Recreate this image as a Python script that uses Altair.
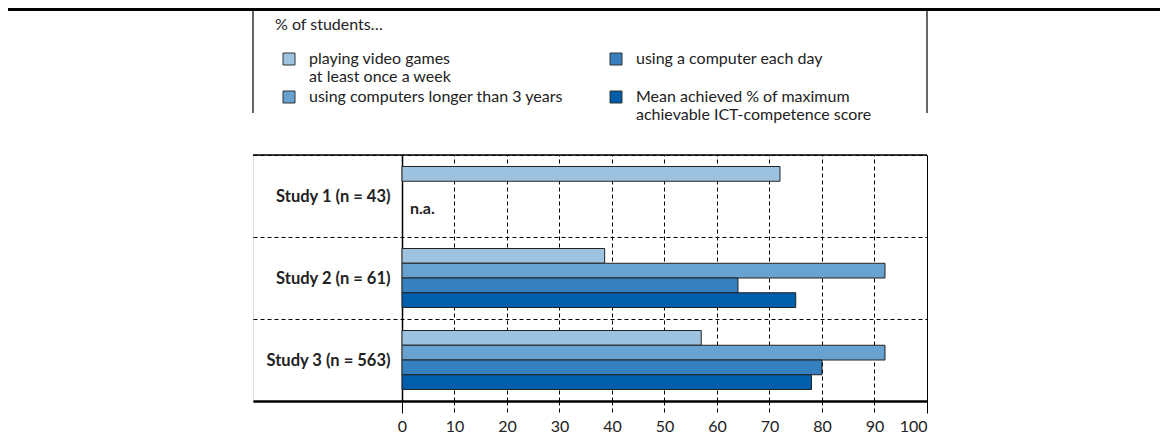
import altair as alt
import pandas as pd

studies = ["Study 1 (n = 43)", "Study 2 (n = 61)", "Study 3 (n = 563)"]
series = [
    "playing video games\nat least once a week",
    "using computers longer than 3 years",
    "using a computer each day",
    "Mean achieved % of maximum\nachievable ICT-competence score",
]
colors = ["#9DC3E0", "#68A2D0", "#3680BF", "#005EAA"]
study1 = [72, None, None, None]
study2 = [38.6, 92, 64, 75]
study3 = [57, 92, 80, 78]
tick_values = [0, 10, 20, 30, 40, 50, 60, 70, 80, 90, 100]
na_text = "n.a."
legend_title = "% of students…"

rows = []
for st, vals in zip(studies, [study1, study2, study3]):
    for s, v in zip(series, vals):
        if v is not None:
            rows.append({"study": st, "series": s, "value": v})
df = pd.DataFrame(rows)

W, H = 674, 246
xscale = alt.Scale(domain=[-28.38, 100], nice=False, zero=False)
FONT = "Lato"
edge_test = "datum.value === 0 || datum.value === 100"

xaxis = alt.Axis(
    values=tick_values, title=None, grid=True, gridColor="black", gridWidth=1,
    gridOpacity=1,
    gridDash={"condition": {"test": edge_test, "value": []}, "value": [4, 3]},
    tickDash={"condition": {"test": edge_test, "value": []}, "value": [4, 3]},
    tickSize=12, tickColor="black", tickWidth=1,
    domainColor="black", domainWidth=2.5,
    labelFont=FONT, labelFontSize=16, labelColor="#222", labelPadding=5,
)
yaxis = alt.Axis(
    title=None, offset=-149, ticks=False, domainColor="black", domainWidth=1.5,
    labelFont=FONT, labelFontWeight="bold", labelFontSize=16.5, labelColor="#222",
    labelPadding=12, grid=True, gridDash=[4, 3], gridColor="black", gridWidth=1,
    gridOpacity=1, tickBand="extent",
)

yenc = alt.Y("study:N", sort=studies, scale=alt.Scale(paddingInner=0, paddingOuter=0), axis=yaxis)
yoff = alt.YOffset("series:N", sort=series, scale=alt.Scale(paddingInner=0, paddingOuter=0.78))

label_expr = (
    f"datum.label == '{series[2]}' ? [datum.label, ''] : split(datum.label, '\\n')"
)

bars = alt.Chart(df).mark_bar(stroke="#222", strokeWidth=1, opacity=1).encode(
    x=alt.X("value:Q", scale=xscale, axis=xaxis),
    x2=alt.datum(0),
    y=yenc,
    yOffset=yoff,
    color=alt.Color(
        "series:N",
        scale=alt.Scale(domain=series, range=colors),
        legend=alt.Legend(
            orient="none", legendX=22, legendY=-138, title=legend_title,
            titleFont=FONT, titleFontWeight="normal", titleFontSize=16, titleColor="#222",
            titlePadding=18, columns=2, columnPadding=38, rowPadding=4,
            labelFont=FONT, labelFontSize=16, labelColor="#222", labelLimit=400,
            labelExpr=label_expr,
            symbolType="square", symbolSize=144, symbolStrokeColor="#333",
            symbolStrokeWidth=1, symbolOffset=6, labelOffset=12, symbolOpacity=1,
        ),
    ),
)

na_df = pd.DataFrame({"study": [studies[0]], "series": [series[2]], "label": [na_text]})
na = alt.Chart(na_df).mark_text(
    font=FONT, fontWeight="bold", fontSize=16, align="left", dx=8, dy=6, color="#222"
).encode(x=alt.datum(0), y=alt.Y("study:N", sort=studies), yOffset=alt.YOffset("series:N", sort=series), text="label:N")

one = pd.DataFrame({"d": [0]})
top_border = alt.Chart(one).mark_rule(color="black", strokeWidth=1.5).encode(
    x=alt.value(0), x2=alt.value(W), y=alt.value(0))
page_rule = alt.Chart(one).mark_rule(color="black", strokeWidth=3).encode(
    x=alt.value(-245), x2=alt.value(W + 233), y=alt.value(-145.5))
box_left = alt.Chart(one).mark_rule(color="black", strokeWidth=1.2).encode(
    x=alt.value(0), y=alt.value(-147), y2=alt.value(-42))
box_right = alt.Chart(one).mark_rule(color="black", strokeWidth=1.2).encode(
    x=alt.value(W), y=alt.value(-147), y2=alt.value(-42))

chart = alt.layer(bars, na, top_border, page_rule, box_left, box_right).properties(
    width=W, height=H,
    autosize=alt.AutoSizeParams(type="none"),
    padding={"left": 245, "top": 147, "right": 233, "bottom": 36},
).configure_view(stroke=None).configure(font=FONT)

chart.save("out.html", embed_options={"renderer": "svg", "actions": False})
